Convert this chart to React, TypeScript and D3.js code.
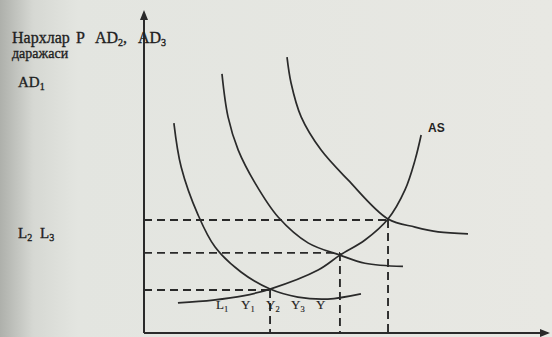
import React from "react";
import * as d3 from "d3";

// Curves in (quantity, price) units, domain 0..100 on both axes
const AD1 = [
  [7.4, 65.0], [9.2, 51.4], [13.4, 36.5], [17.6, 26.6], [24.0, 18.9],
  [31.2, 13.6], [38.1, 11.1], [45.5, 10.5], [53.7, 12.1],
];
const AD2 = [
  [19.3, 80.2], [20.8, 66.9], [23.3, 56.7], [27.5, 46.4], [33.2, 35.9],
  [40.6, 27.9], [48.5, 24.1], [54.7, 21.6], [64.1, 20.6],
];
const AD3 = [
  [35.4, 85.4], [36.4, 77.4], [38.9, 66.9], [43.8, 56.7], [50.5, 47.4],
  [60.4, 35.3], [67.1, 32.8], [72.8, 31.3], [80.2, 30.7],
];
const AS = [
  [8.4, 9.3], [17.1, 10.2], [24.5, 11.5], [31.2, 13.6], [43.1, 19.5],
  [48.5, 24.1], [54.7, 28.8], [60.4, 35.3], [64.6, 44.3], [67.1, 53.6], [68.6, 61.3],
];
// Equilibrium quantities and price levels (dashed guides)
const eqQ = [31.2, 48.5, 60.4];
const eqP = [13.3, 24.8, 35.0];
const bottomLabels = [["L", "1"], ["Y", "1"], ["Y", "2"], ["Y", "3"], ["Y", ""]];

const W = 552;
const H = 337;

export default function App() {
  const x = d3.scaleLinear().domain([0, 100]).range([144, 548]);
  const y = d3.scaleLinear().domain([0, 100]).range([333, 10]);
  const line = d3
    .line<number[]>()
    .x((d) => x(d[0]))
    .y((d) => y(d[1]))
    .curve(d3.curveCatmullRom.alpha(0.5));
  const ink = "#2a2a2a";
  const serif = "'Liberation Serif', 'DejaVu Serif', serif";
  return (
    <svg
      width={W}
      height={H}
      style={{ position: "absolute", left: 0, top: 0 }}
      viewBox={`0 0 ${W} ${H}`}
    >
      <defs>
        <linearGradient id="edge" x1="0" x2="1" y1="0" y2="0">
          <stop offset="0" stopColor="#aeb0ab" />
          <stop offset="0.06" stopColor="#d6d8d3" />
          <stop offset="0.14" stopColor="#e3e5e0" />
          <stop offset="1" stopColor="#e8e8e3" />
        </linearGradient>
      </defs>
      <rect x={0} y={0} width={W} height={H} fill="url(#edge)" />

      {/* dashed guides */}
      <g stroke={ink} strokeWidth={1.9} strokeDasharray="8 5" fill="none">
        {eqQ.map((q, i) => (
          <g key={i}>
            <line x1={x(0)} x2={x(q)} y1={y(eqP[i])} y2={y(eqP[i])} />
            <line x1={x(q)} x2={x(q)} y1={y(eqP[i])} y2={y(0)} />
          </g>
        ))}
      </g>

      {/* curves */}
      <g stroke={ink} strokeWidth={1.7} fill="none">
        <path d={line(AD1) || ""} />
        <path d={line(AD2) || ""} />
        <path d={line(AD3) || ""} />
        <path d={line(AS) || ""} />
      </g>

      {/* axes */}
      <g stroke={ink} strokeWidth={2} fill="none">
        <line x1={x(0)} x2={x(0)} y1={y(0)} y2={y(99)} />
        <line x1={x(0)} x2={x(100)} y1={y(0)} y2={y(0)} />
      </g>
      <path
        d={`M${x(0)},${y(100)} L${x(0) - 4},${y(100) + 10} L${x(0) + 4},${y(100) + 10} Z`}
        fill={ink}
      />
      <path
        d={`M${x(100) + 2},${y(0)} L${x(100) - 8},${y(0) - 4} L${x(100) - 8},${y(0) + 4} Z`}
        fill={ink}
      />

      {/* labels */}
      <g
        fontFamily={serif}
        fill="#1f1f1f"
        stroke="#1f1f1f"
        strokeWidth={0.35}
        fontSize={16}
      >
        <text y={43}>
          <tspan x={12}>Нархлар</tspan>
          <tspan x={76}>P</tspan>
          <tspan x={95}>AD</tspan>
          <tspan fontSize={10} dy={3}>2</tspan>
          <tspan dy={-3}>,</tspan>
          <tspan x={138}>AD</tspan>
          <tspan fontSize={10} dy={3}>3</tspan>
        </text>
        <text x={12} y={58} fontSize={14}>даражаси</text>
        <text x={18} y={87} fontSize={15}>
          AD<tspan fontSize={10} dy={3}>1</tspan>
        </text>
        <text y={238} fontSize={15}>
          <tspan x={18}>L</tspan>
          <tspan fontSize={10} dy={3}>2</tspan>
          <tspan x={40} dy={-3}>L</tspan>
          <tspan fontSize={10} dy={3}>3</tspan>
        </text>
        {bottomLabels.map((b, i) => (
          <text key={i} x={216 + i * 25} y={309} fontSize={13} strokeWidth={0.15}>
            {b[0]}
            <tspan fontSize={8.5} dy={3}>{b[1]}</tspan>
          </text>
        ))}
      </g>
      <text
        x={428}
        y={132}
        fontFamily="'Liberation Sans', Arial, sans-serif"
        fontWeight="bold"
        fontSize={12}
        fill="#232323"
      >
        AS
      </text>
    </svg>
  );
}
